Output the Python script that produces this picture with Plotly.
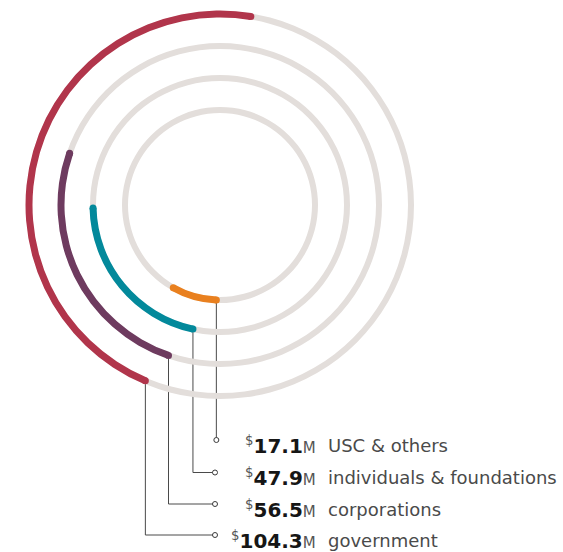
import math
import plotly.graph_objects as go

# ---- data -------------------------------------------------------------
categories = ["USC & others", "individuals & foundations", "corporations", "government"]
values = [17.1, 47.9, 56.5, 104.3]          # $ millions
colors = ["#e9801f", "#03899b", "#6e3b5f", "#b1354b"]

# ---- layout constants -------------------------------------------------
W, H = 563, 552
CX, CY = 220, 205            # ring centre (px)
R_MAX = 200                  # radial axis range == polar radius in px
RING_R = [95, 127, 159, 191]
START_DEG = [2.2, 12.3, 18.9, 23.0]   # where each arc begins, clockwise from 6 o'clock
TRACK_W, ARC_W = 6, 7
TRACK_COLOR = "#e3dedb"
LEADER_X = 215
ROW_Y = [440, 472.5, 504, 535]
VALUE_RIGHT_X = 318
LABEL_LEFT_X = 326

total = sum(values)
spans = [v / total * 360 for v in values]

fig = go.Figure()

# grey full-circle tracks
for r in RING_R:
    fig.add_trace(go.Barpolar(
        r=[TRACK_W], base=[r - TRACK_W / 2], theta=[180], width=[359.999],
        marker=dict(color=TRACK_COLOR, line=dict(width=0)),
        hoverinfo="skip", showlegend=False, subplot="polar",
    ))

# coloured arcs, one ring per category
for cat, r, s0, span, col in zip(categories, RING_R, START_DEG, spans, colors):
    fig.add_trace(go.Barpolar(
        r=[ARC_W], base=[r - ARC_W / 2], theta=[s0 + span / 2], width=[span],
        marker=dict(color=col, line=dict(width=0)),
        name=cat, hoverinfo="name", showlegend=False, subplot="polar",
    ))
    # round caps at both ends of the arc
    fig.add_trace(go.Scatterpolar(
        r=[r, r], theta=[s0, s0 + span], mode="markers",
        marker=dict(color=col, size=ARC_W, line=dict(width=0)),
        hoverinfo="skip", showlegend=False, subplot="polar",
    ))

# leader lines from the start of every arc down to its label row
for r, s0, y in zip(RING_R, START_DEG, ROW_Y):
    a = math.radians(s0)
    x_top = CX - r * math.sin(a)
    y_top = CY + r * math.cos(a)
    end_x = max(x_top, LEADER_X)
    fig.add_trace(go.Scatter(
        x=[x_top, x_top, end_x], y=[y_top, y, y], mode="lines",
        line=dict(color="#4a4a4a", width=1),
        hoverinfo="skip", showlegend=False,
    ))
    fig.add_trace(go.Scatter(
        x=[end_x], y=[y], mode="markers",
        marker=dict(symbol="circle", size=5, color="white",
                    line=dict(color="#3a3a3a", width=1)),
        hoverinfo="skip", showlegend=False,
    ))

# value and category labels
for cat, v, y in zip(categories, values, ROW_Y):
    fig.add_annotation(
        x=VALUE_RIGHT_X, y=y + 5, xref="x", yref="y",
        xanchor="right", yanchor="middle", showarrow=False,
        text=(f"<span style='font-size:19px;color:#555'><sup>$</sup></span>"
              f"<b>{v:.1f}</b>"
              f"<span style='font-size:15px;color:#555'>M</span>"),
        font=dict(family="DejaVu Sans", size=20, color="#161616"),
    )
    fig.add_annotation(
        x=LABEL_LEFT_X, y=y + 5, xref="x", yref="y",
        xanchor="left", yanchor="middle", showarrow=False,
        text=cat,
        font=dict(family="DejaVu Sans", size=18, color="#4a4a4a"),
    )

fig.update_layout(
    width=W, height=H,
    margin=dict(l=0, r=0, t=0, b=0),
    paper_bgcolor="white", plot_bgcolor="rgba(0,0,0,0)",
    xaxis=dict(range=[0, W], visible=False, domain=[0, 1], fixedrange=True),
    yaxis=dict(range=[H, 0], visible=False, domain=[0, 1], fixedrange=True),
    polar=dict(
        domain=dict(x=[(CX - R_MAX) / W, (CX + R_MAX) / W],
                    y=[1 - (CY + R_MAX) / H, 1 - (CY - R_MAX) / H]),
        bgcolor="rgba(0,0,0,0)",
        barmode="overlay",
        radialaxis=dict(range=[0, R_MAX], visible=False),
        angularaxis=dict(rotation=270, direction="clockwise", visible=False),
    ),
)

fig.write_html("out.html")
